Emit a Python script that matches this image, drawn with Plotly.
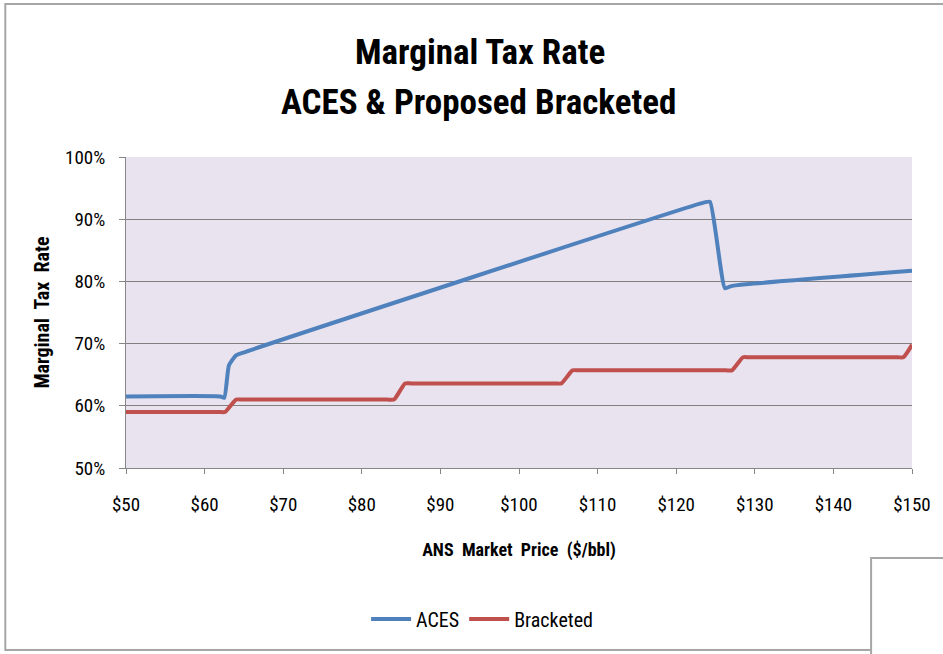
import plotly.graph_objects as go

# Data
aces_price = [50, 62, 62.5, 63.1, 64.0, 64.8, 123.6, 124.3, 126.2, 126.9, 127.8, 150]
aces_rate = [61.5, 61.5, 61.3, 66.5, 68.1, 68.5, 92.7, 92.8, 78.9, 79.2, 79.4, 81.7]

bracket_price = [50, 61.8, 62.6, 64.0, 64.8, 83.2, 84.1, 85.5, 86.3, 104.6, 105.4, 106.8, 107.6,
                 126.3, 127.1, 128.5, 129.3, 148.2, 148.9, 150]
bracket_rate = [59.0, 59.0, 59.0, 61.0, 61.0, 61.0, 61.0, 63.6, 63.6, 63.6, 63.6, 65.7, 65.7,
                65.7, 65.7, 67.8, 67.8, 67.8, 67.8, 69.8]

x_ticks = [50, 60, 70, 80, 90, 100, 110, 120, 130, 140, 150]
x_tick_labels = ["$50", "$60", "$70", "$80", "$90", "$100", "$110", "$120", "$130", "$140", "$150"]
y_ticks = [50, 60, 70, 80, 90, 100]
y_tick_labels = ["50%", "60%", "70%", "80%", "90%", "100%"]

W, H = 943, 654
L, R, T, B = 126, 914, 157, 468
PW, PH = R - L, B - T


def px(x):
    return (x - L) / PW


def py(y):
    return (B - y) / PH


FONT = "Roboto Condensed, Liberation Sans Narrow, Arial Narrow, DejaVu Sans Condensed, sans-serif"

fig = go.Figure()
fig.add_trace(go.Scatter(x=aces_price, y=aces_rate, mode="lines", name="ACES",
                         line=dict(color="#4F81BD", width=4, shape="spline", smoothing=0.5)))
fig.add_trace(go.Scatter(x=bracket_price, y=bracket_rate, mode="lines", name="Bracketed",
                         line=dict(color="#C0504D", width=4, shape="spline", smoothing=0.5)))

fig.update_layout(
    width=W, height=H,
    margin=dict(l=L, r=W - R, t=T, b=H - B),
    paper_bgcolor="white",
    plot_bgcolor="#E8E3EE",
    font=dict(family=FONT, color="#000000", size=15),
    showlegend=True,
    legend=dict(orientation="h", x=px(483), y=py(619), xanchor="center", yanchor="middle",
                font=dict(size=20, family=FONT), itemwidth=40, bgcolor="rgba(0,0,0,0)"),
    xaxis=dict(range=[50, 150], tickvals=x_ticks, ticktext=x_tick_labels,
               showgrid=False, zeroline=False, showline=True, linecolor="#868686", linewidth=1,
               ticks="outside", ticklen=5, tickcolor="#868686", tickfont=dict(size=19),
               ticklabelstandoff=14,
               title=dict(text="<b>ANS  Market  Price  ($/bbl)</b>", font=dict(size=18), standoff=28)),
    yaxis=dict(range=[50, 100], tickvals=y_ticks, ticktext=y_tick_labels,
               showgrid=True, gridcolor="#808080", gridwidth=1.3, zeroline=False,
               showline=True, linecolor="#868686", linewidth=1,
               ticks="outside", ticklen=6, tickcolor="#868686", tickfont=dict(size=19),
               ticklabelstandoff=10,
               title=dict(text="<b>Marginal  Tax  Rate</b>", font=dict(size=20), standoff=10)),
)

fig.add_annotation(text="<b>Marginal Tax Rate</b>", xref="paper", yref="paper",
                   x=px(481), y=py(52), showarrow=False, font=dict(size=35, family=FONT),
                   xanchor="center", yanchor="middle")
fig.add_annotation(text="<b>ACES &amp; Proposed Bracketed</b>", xref="paper", yref="paper",
                   x=px(479), y=py(103), showarrow=False, font=dict(size=35, family=FONT),
                   xanchor="center", yanchor="middle")

# outer chart border
fig.add_shape(type="rect", xref="paper", yref="paper",
              x0=px(5), y0=py(650), x1=px(960), y1=py(4),
              line=dict(color="#A6A6A6", width=2), layer="below")
# bottom-right box
fig.add_shape(type="rect", xref="paper", yref="paper",
              x0=px(873), y0=py(670), x1=px(960), y1=py(558),
              line=dict(color="#A6A6A6", width=2), fillcolor="white")

fig.write_html("out.html", config={"displayModeBar": False},
               post_script="document.body.style.margin='0';")
